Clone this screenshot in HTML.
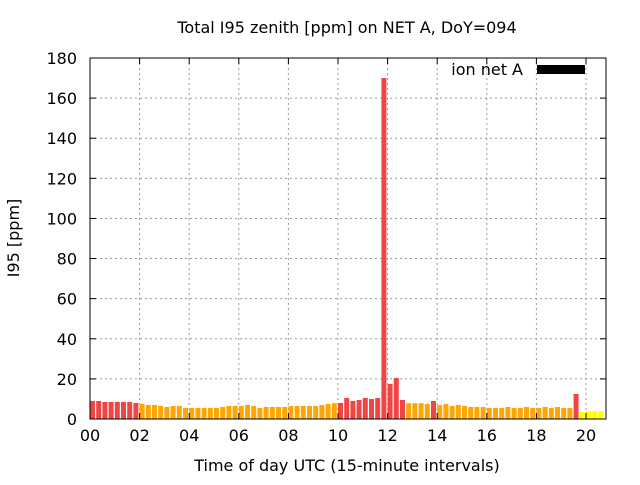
<!DOCTYPE html>
<html><head><meta charset="utf-8"><style>
body{margin:0;background:#fff}
svg text{font-family:"DejaVu Sans","Liberation Sans",sans-serif;fill:#000}
</style></head><body>
<svg id="c" width="640" height="480">
<text x="347" y="33" font-size="16" text-anchor="middle">Total I95 zenith [ppm] on NET A, DoY=094</text>
<text x="347" y="471" font-size="16" text-anchor="middle">Time of day UTC (15-minute intervals)</text>
<text transform="translate(19,238) rotate(-90)" font-size="16" text-anchor="middle">I95 [ppm]</text>
<g id="grid"></g><g id="bars"></g><g id="axes"></g>
<text x="523" y="75" font-size="16" text-anchor="end">ion net A</text>
<rect x="537" y="65" width="48" height="9" fill="#000"/>
</svg>
<script>
const values=[9,9,8.5,8.5,8.5,8.5,8.5,8,
7.5,7,7,6.5,6,6.5,6.5,5.5,5.5,5.5,5.5,5.5,5.5,6,6.5,6.5,6.5,7,6.5,5.5,6,6,6,6,6.5,6.5,6.5,6.5,6.5,7,7.5,7.9,
8,10.5,9,9.5,10.5,10,10.5,170,17.5,20.5,9.5,7.9,7.9,7.9,7.5,9,7,7.5,6.5,7,6.5,6,6,6,5.5,5.5,5.5,6,5.5,5.5,6,5.5,5.5,6,5.5,6,5.5,5.5,12.5,3.5,4,4,4];
const yTicks=[0,20,40,60,80,100,120,140,160,180];
const xTicks=["00","02","04","06","08","10","12","14","16","18","20"];
const NS="http://www.w3.org/2000/svg";
const L=90,R=606,T=58,B=419;
const ys=v=>B-(v/180)*(B-T);
const xs=h=>L+h*24.8;
function mk(t,a,p){const e=document.createElementNS(NS,t);for(const k in a)e.setAttribute(k,a[k]);p.appendChild(e);return e;}
const grid=document.getElementById('grid'),bars=document.getElementById('bars'),axes=document.getElementById('axes');
yTicks.forEach(v=>{const y=ys(v);
 if(v>0&&v<180){const g=mk('line',{x1:L,x2:R,y1:y,y2:y,stroke:'#999','stroke-dasharray':'2,3'},grid);
 
 }
 const t=mk('text',{x:L-13,y:y+6,'font-size':16,'text-anchor':'end'},axes);t.textContent=v;
 
 
 mk('line',{x1:L,x2:L+6,y1:y,y2:y,stroke:'#000'},axes);mk('line',{x1:R,x2:R-6,y1:y,y2:y,stroke:'#000'},axes);});
xTicks.forEach((s,i)=>{const x=xs(i*2);
 if(i>0){const g=mk('line',{x1:x,x2:x,y1:T,y2:B,stroke:'#999','stroke-dasharray':'2,3'},grid);
 
 }
 const t=mk('text',{x:x,y:B+22,'font-size':16,'text-anchor':'middle'},axes);t.textContent=s;
 
 
 mk('line',{x1:x,x2:x,y1:B,y2:B-6,stroke:'#000'},axes);mk('line',{x1:x,x2:x,y1:T,y2:T+6,stroke:'#000'},axes);});
values.forEach((v,i)=>{const x=xs(i*0.25);const c=v>=8?'#f04545':(v>=5?'#ffa500':'#ffff00');
 const r=mk('rect',{x:x,y:ys(v),width:5,height:B-ys(v),fill:c},bars);
 
 });
const f=mk('rect',{x:L,y:T,width:R-L,height:B-T,fill:'none',stroke:'#000'},axes);


</script>
</body></html>
